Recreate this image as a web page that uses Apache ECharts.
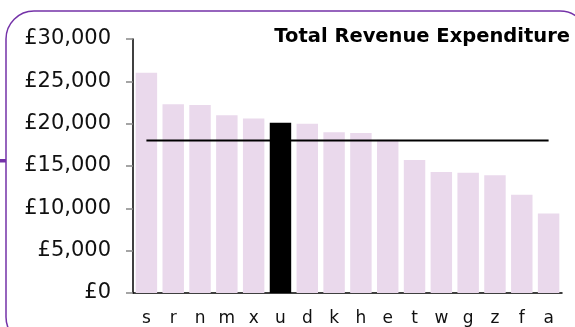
<!DOCTYPE html>
<html>
<head>
<meta charset="utf-8">
<script src="https://cdn.jsdelivr.net/npm/echarts@6/dist/echarts.min.js"></script>
<style>
  html, body { margin: 0; padding: 0; background: #fff; }
  #chart { width: 575px; height: 327px; }
</style>
</head>
<body>
<div id="chart"></div>
<script>
// Authorities ranked by total revenue expenditure (£)
const categories = ['s', 'r', 'n', 'm', 'x', 'u', 'd', 'k', 'h', 'e', 't', 'w', 'g', 'z', 'f', 'a'];
const expenditure = [26000, 22300, 22200, 21000, 20600, 20100, 20000, 19000, 18900, 18100, 15700, 14300, 14200, 13900, 11600, 9400];
const highlighted = 'u';
const averageValue = 18000;
const averageLine = categories.map(() => averageValue);
const yTicks = { min: 0, max: 30000, interval: 5000 };

const font = '"DejaVu Sans", Verdana, sans-serif';
const purple = '#7432a8';

const chart = echarts.init(document.getElementById('chart'), null, { renderer: 'canvas' });

chart.setOption({
  animation: false,
  backgroundColor: '#fff',
  title: {
    text: 'Total Revenue Expenditure',
    right: 0,
    top: 22,
    textStyle: { fontFamily: font, fontSize: 19.5, fontWeight: 'bold', color: '#000' }
  },
  graphic: [
    {
      type: 'rect',
      shape: { x: 6, y: 11, width: 582, height: 334, r: 28 },
      style: { fill: 'none', stroke: purple, lineWidth: 1.5 },
      z: -1
    },
    {
      type: 'rect',
      shape: { x: 0, y: 159, width: 6, height: 3.5 },
      style: { fill: purple },
      z: -1
    }
  ],
  grid: { left: 133, right: 13, top: 39, bottom: 34, containLabel: false },
  xAxis: {
    type: 'category',
    data: categories,
    axisLine: { lineStyle: { color: '#000', width: 1.5 } },
    axisTick: { show: false },
    axisLabel: { fontFamily: font, fontSize: 17, color: '#111', margin: 17 }
  },
  yAxis: {
    type: 'value',
    min: yTicks.min,
    max: yTicks.max,
    interval: yTicks.interval,
    splitLine: { show: false },
    axisLine: { show: true, lineStyle: { color: '#000', width: 1.5 } },
    axisTick: { show: true, length: 7, lineStyle: { color: '#888', width: 1.5 } },
    axisLabel: {
      fontFamily: font, fontSize: 21, color: '#111', margin: 22,
      formatter: v => '£' + v.toLocaleString('en-GB')
    }
  },
  series: [
    {
      type: 'bar',
      barCategoryGap: '20%',
      data: expenditure.map((v, i) => ({
        value: v,
        itemStyle: { color: categories[i] === highlighted ? '#000' : '#ead9ec' }
      }))
    },
    {
      type: 'line',
      data: averageLine,
      symbol: 'none',
      lineStyle: { color: '#000', width: 2 },
      z: 5
    }
  ]
});
</script>
</body>
</html>
